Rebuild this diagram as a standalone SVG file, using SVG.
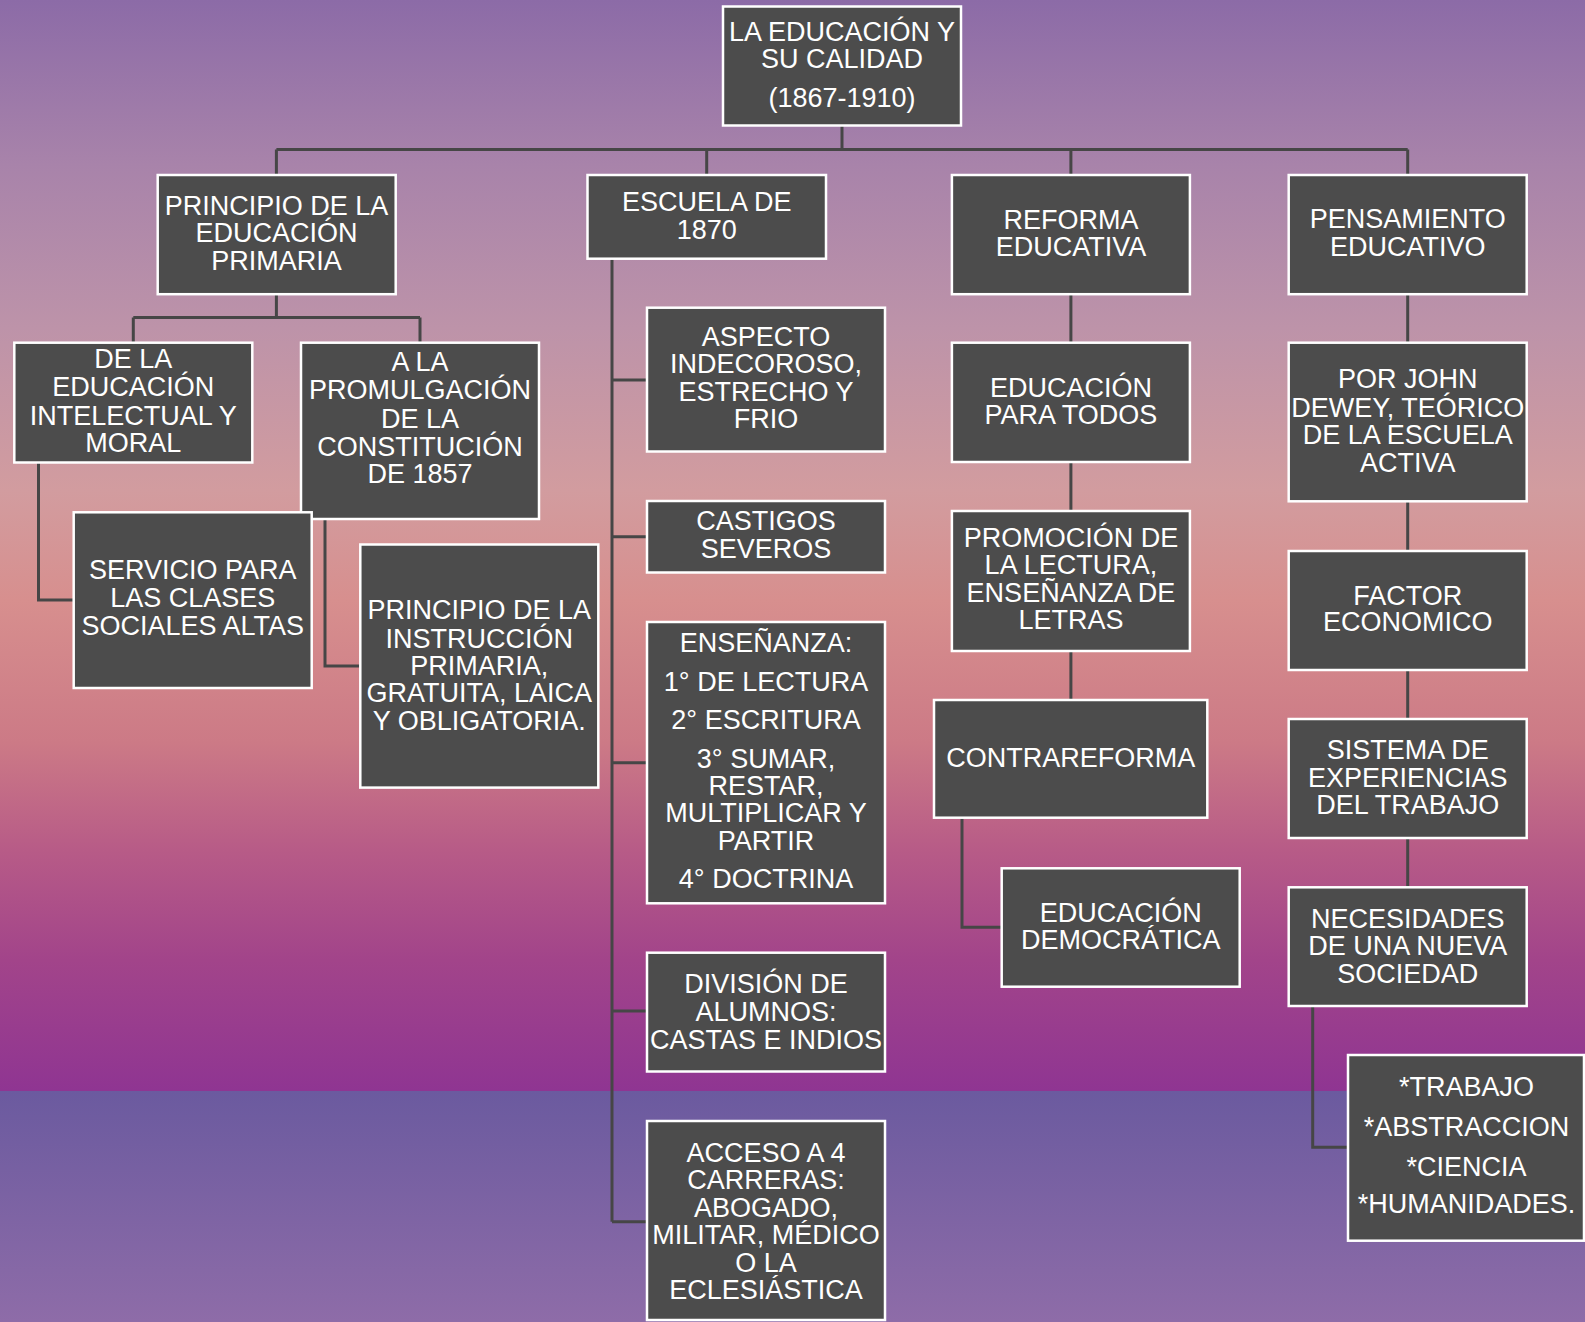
<svg xmlns="http://www.w3.org/2000/svg" width="1585" height="1322" viewBox="0 0 1585 1322">
<defs>
<linearGradient id="bgTop" x1="0" y1="0" x2="0" y2="1091" gradientUnits="userSpaceOnUse">
<stop offset="0" stop-color="#8c6ba7"/>
<stop offset="0.15" stop-color="#a883aa"/>
<stop offset="0.3" stop-color="#bd93a9"/>
<stop offset="0.45" stop-color="#d29c9f"/>
<stop offset="0.55" stop-color="#d78f8e"/>
<stop offset="0.68" stop-color="#cc7a86"/>
<stop offset="0.78" stop-color="#b75b87"/>
<stop offset="0.88" stop-color="#a2448a"/>
<stop offset="1" stop-color="#8f3592"/>
</linearGradient>
<linearGradient id="bgBot" x1="0" y1="1091" x2="0" y2="1322" gradientUnits="userSpaceOnUse">
<stop offset="0" stop-color="#6b5a9f"/>
<stop offset="1" stop-color="#8e6ca8"/>
</linearGradient>
<style>
.box{fill:#4c4c4c;stroke:#ffffff;stroke-width:2.5}
.t{fill:#ffffff;font-family:"Liberation Sans",Arial,sans-serif;font-size:27px;text-anchor:middle}
.c{fill:none;stroke:#464646;stroke-width:3}
</style>
</defs>
<rect x="0" y="0" width="1585" height="1091" fill="url(#bgTop)"/>
<rect x="0" y="1091" width="1585" height="231" fill="url(#bgBot)"/>

<g id="connectors">
<path class="c" d="M842 125.5V149.5M276.4 149.5H1407.7M276.4 149.5V175M706.7 149.5V175M1070.9 149.5V175M1407.7 149.5V175"/>
<path class="c" d="M276.4 294.2V317.5M133.3 317.5H420M133.3 317.5V342.7M420 317.5V342.7"/>
<path class="c" d="M38.5 462.5V600H73.7"/>
<path class="c" d="M325 519V666H360.3"/>
<path class="c" d="M612 258.7V1221.7M612 380H647M612 536.7H647M612 762.7H647M612 1011H647M612 1221.7H647"/>
<path class="c" d="M1070.9 294.2V342.7M1070.9 462V511M1070.9 651V700"/>
<path class="c" d="M962 817.7V927.3H1002"/>
<path class="c" d="M1407.7 294.2V342.7M1407.7 501.3V551M1407.7 670V719M1407.7 838V887.3"/>
<path class="c" d="M1312.7 1006V1147.3H1348"/>
</g>

<g id="n_root">
<rect class="box" x="723" y="6.5" width="238" height="119"/>
<text class="t"><tspan x="842" y="40.7">LA EDUCACIÓN Y</tspan><tspan x="842" y="68">SU CALIDAD</tspan><tspan x="842" y="107">(1867-1910)</tspan></text>
</g>

<g id="n_principio">
<rect class="box" x="157.7" y="175" width="238" height="119.2"/>
<text class="t"><tspan x="276.6" y="215">PRINCIPIO DE LA</tspan><tspan x="276.6" y="242.3">EDUCACIÓN</tspan><tspan x="276.6" y="270.3">PRIMARIA</tspan></text>
</g>

<g id="n_escuela">
<rect class="box" x="587.5" y="175" width="238.5" height="83.7"/>
<text class="t"><tspan x="706.7" y="210.7">ESCUELA DE</tspan><tspan x="706.7" y="238.7">1870</tspan></text>
</g>

<g id="n_reforma">
<rect class="box" x="951.9" y="175" width="238" height="119.2"/>
<text class="t"><tspan x="1070.9" y="229">REFORMA</tspan><tspan x="1070.9" y="255.7">EDUCATIVA</tspan></text>
</g>

<g id="n_pensamiento">
<rect class="box" x="1288.7" y="175" width="238" height="119.2"/>
<text class="t"><tspan x="1407.7" y="228.3">PENSAMIENTO</tspan><tspan x="1407.7" y="255.7">EDUCATIVO</tspan></text>
</g>

<g id="n_delaedu">
<rect class="box" x="14.3" y="342.7" width="238" height="119.8"/>
<text class="t"><tspan x="133.3" y="368.3">DE LA</tspan><tspan x="133.3" y="396">EDUCACIÓN</tspan><tspan x="133.3" y="425">INTELECTUAL Y</tspan><tspan x="133.3" y="452">MORAL</tspan></text>
</g>

<g id="n_alapromul">
<rect class="box" x="301" y="342.7" width="238" height="176.3"/>
<text class="t"><tspan x="420" y="371">A LA</tspan><tspan x="420" y="399.3">PROMULGACIÓN</tspan><tspan x="420" y="427.7">DE LA</tspan><tspan x="420" y="456">CONSTITUCIÓN</tspan><tspan x="420" y="482.7">DE 1857</tspan></text>
</g>

<g id="n_servicio">
<rect class="box" x="73.7" y="512.3" width="238" height="175.7"/>
<text class="t"><tspan x="192.7" y="579.3">SERVICIO PARA</tspan><tspan x="192.7" y="607.3">LAS CLASES</tspan><tspan x="192.7" y="635.3">SOCIALES ALTAS</tspan></text>
</g>

<g id="n_instruccion">
<rect class="box" x="360.3" y="544.5" width="238" height="243.1"/>
<text class="t"><tspan x="479.3" y="619.3">PRINCIPIO DE LA</tspan><tspan x="479.3" y="647.7">INSTRUCCIÓN</tspan><tspan x="479.3" y="675">PRIMARIA,</tspan><tspan x="479.3" y="702.3">GRATUITA, LAICA</tspan><tspan x="479.3" y="730">Y OBLIGATORIA.</tspan></text>
</g>

<g id="n_aspecto">
<rect class="box" x="647" y="307.7" width="238" height="143.8"/>
<text class="t"><tspan x="766" y="346">ASPECTO</tspan><tspan x="766" y="373.3">INDECOROSO,</tspan><tspan x="766" y="400.7">ESTRECHO Y</tspan><tspan x="766" y="428.3">FRIO</tspan></text>
</g>

<g id="n_castigos">
<rect class="box" x="647" y="501" width="238" height="71.5"/>
<text class="t"><tspan x="766" y="530">CASTIGOS</tspan><tspan x="766" y="558.3">SEVEROS</tspan></text>
</g>

<g id="n_ensenanza">
<rect class="box" x="647" y="622" width="238" height="281.3"/>
<text class="t"><tspan x="766" y="652.3">ENSEÑANZA:</tspan><tspan x="766" y="690.7">1° DE LECTURA</tspan><tspan x="766" y="729">2° ESCRITURA</tspan><tspan x="766" y="767.7">3° SUMAR,</tspan><tspan x="766" y="795">RESTAR,</tspan><tspan x="766" y="822.3">MULTIPLICAR Y</tspan><tspan x="766" y="850">PARTIR</tspan><tspan x="766" y="887.7">4° DOCTRINA</tspan></text>
</g>

<g id="n_division">
<rect class="box" x="647" y="952.7" width="238" height="118.8"/>
<text class="t"><tspan x="766" y="993.3">DIVISIÓN DE</tspan><tspan x="766" y="1021">ALUMNOS:</tspan><tspan x="766" y="1048.7">CASTAS E INDIOS</tspan></text>
</g>

<g id="n_acceso">
<rect class="box" x="647" y="1121" width="238" height="199"/>
<text class="t"><tspan x="766" y="1161.7">ACCESO A 4</tspan><tspan x="766" y="1189">CARRERAS:</tspan><tspan x="766" y="1216.7">ABOGADO,</tspan><tspan x="766" y="1244.3">MILITAR, MÉDICO</tspan><tspan x="766" y="1271.7">O LA</tspan><tspan x="766" y="1299">ECLESIÁSTICA</tspan></text>
</g>

<g id="n_edutodos">
<rect class="box" x="951.9" y="342.7" width="238" height="119.3"/>
<text class="t"><tspan x="1070.9" y="396.7">EDUCACIÓN</tspan><tspan x="1070.9" y="424.3">PARA TODOS</tspan></text>
</g>

<g id="n_promocion">
<rect class="box" x="951.9" y="511" width="238" height="140"/>
<text class="t"><tspan x="1070.9" y="547.3">PROMOCIÓN DE</tspan><tspan x="1070.9" y="574.3">LA LECTURA,</tspan><tspan x="1070.9" y="602">ENSEÑANZA DE</tspan><tspan x="1070.9" y="629.3">LETRAS</tspan></text>
</g>

<g id="n_contra">
<rect class="box" x="934" y="700" width="273.3" height="117.7"/>
<text class="t" x="1070.7" y="767.3">CONTRAREFORMA</text>
</g>

<g id="n_democratica">
<rect class="box" x="1001.7" y="868.3" width="238" height="118.4"/>
<text class="t"><tspan x="1120.7" y="921.7">EDUCACIÓN</tspan><tspan x="1120.7" y="949.3">DEMOCRÁTICA</tspan></text>
</g>

<g id="n_dewey">
<rect class="box" x="1288.7" y="342.7" width="238" height="158.6"/>
<text class="t"><tspan x="1407.7" y="388.3">POR JOHN</tspan><tspan x="1407.7" y="416.7">DEWEY, TEÓRICO</tspan><tspan x="1407.7" y="444.3">DE LA ESCUELA</tspan><tspan x="1407.7" y="471.7">ACTIVA</tspan></text>
</g>

<g id="n_factor">
<rect class="box" x="1288.7" y="551" width="238" height="119"/>
<text class="t"><tspan x="1407.7" y="605">FACTOR</tspan><tspan x="1407.7" y="631">ECONOMICO</tspan></text>
</g>

<g id="n_sistema">
<rect class="box" x="1288.7" y="719" width="238" height="119"/>
<text class="t"><tspan x="1407.7" y="759">SISTEMA DE</tspan><tspan x="1407.7" y="786.7">EXPERIENCIAS</tspan><tspan x="1407.7" y="814.3">DEL TRABAJO</tspan></text>
</g>

<g id="n_necesidades">
<rect class="box" x="1288.7" y="887.3" width="238" height="118.7"/>
<text class="t"><tspan x="1407.7" y="927.7">NECESIDADES</tspan><tspan x="1407.7" y="955">DE UNA NUEVA</tspan><tspan x="1407.7" y="982.7">SOCIEDAD</tspan></text>
</g>

<g id="n_trabajo">
<rect class="box" x="1348" y="1055" width="236" height="185.7"/>
<text class="t"><tspan x="1466.5" y="1096">*TRABAJO</tspan><tspan x="1466.5" y="1136">*ABSTRACCION</tspan><tspan x="1466.5" y="1176">*CIENCIA</tspan><tspan x="1466.5" y="1213">*HUMANIDADES.</tspan></text>
</g>
</svg>
